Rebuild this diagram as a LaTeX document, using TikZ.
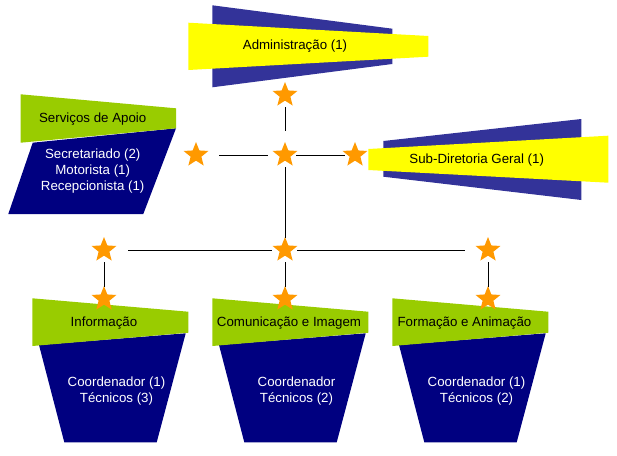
\documentclass[tikz,border=0pt]{standalone}
\usepackage{fontspec}
\setmainfont{Liberation Sans}
\usetikzlibrary{shapes.geometric}

\definecolor{navyblue}{HTML}{000080}
\definecolor{indigoblue}{HTML}{333399}
\definecolor{leafgreen}{HTML}{99CC00}
\definecolor{staryellow}{HTML}{FFFF00}
\definecolor{starorange}{HTML}{FF9900}

\begin{document}
\begin{tikzpicture}[x=1pt,y=-1pt]

\tikzstyle{star_node} = [star, star points=5, star point ratio=2.3, minimum size=26pt, inner sep=0pt, fill=starorange]
\tikzstyle{label_dark} = [font=\fontsize{13.3}{16}\selectfont, text=black, inner sep=0pt]
\tikzstyle{label_light} = [font=\fontsize{13.3}{16}\selectfont, text=white, align=center, inner sep=0pt]
\tikzstyle{link} = [line width=1pt, black, shorten <=12pt, shorten >=12pt]

\useasboundingbox (0,0) rectangle (617,455);

%------------------------------------------------------------
	% Administracao
	\fill[indigoblue] (212.3,5.3) -- (392.3,28.7) -- (392.3,64) -- (212.3,87.3) -- cycle;
	\fill[staryellow] (188.3,22.7) -- (428.3,36) -- (428.3,56.7) -- (188.3,70) -- cycle;
	\node[label_dark] (adm) at (295,46.5) {Administração (1)};

	% Sub-Diretoria
	\fill[indigoblue] (383.3,141) -- (581.3,119) -- (581.3,200) -- (383.3,176.7) -- cycle;
	\fill[staryellow] (368.3,149) -- (608.3,135.7) -- (608.3,182.7) -- (368.3,170) -- cycle;
	\node[label_dark] (sub) at (476.7,160.5) {Sub-Diretoria Geral (1)};

	% Servicos de Apoio
	\fill[navyblue] (32.7,142.7) -- (176,128.3) -- (143.3,214) -- (8.3,214) -- cycle;
	\fill[leafgreen] (20.7,94.3) -- (176,108.3) -- (176,128.3) -- (20.7,142.7) -- cycle;
	\node[label_dark] (apoio) at (92.7,118.8) {Serviços de Apoio};
	\node[label_light] (apoio_txt) at (92.7,171) {Secretariado (2)\\Motorista (1)\\Recepcionista (1)};

%------------------------------------------------------------
	\fill[navyblue] (39,345) -- (185.7,333.3) -- (156.7,442.3) -- (64.3,442.3) -- cycle;
	\fill[leafgreen] (32.3,298.3) -- (188.3,311.7) -- (188.3,332.7) -- (32.3,346) -- cycle;
	\node[label_dark] (info) at (104,322.8) {Informação};
	\node[label_light] (info_txt) at (116.5,391.5) {Coordenador (1)\\Técnicos (3)};

	\fill[navyblue] (219,345) -- (365.7,333.3) -- (336.7,442.3) -- (244.3,442.3) -- cycle;
	\fill[leafgreen] (212.3,298.3) -- (368.3,311.7) -- (368.3,332.7) -- (212.3,346) -- cycle;
	\node[label_dark] (com) at (289,322.8) {Comunicação e Imagem};
	\node[label_light] (com_txt) at (296.5,391.5) {Coordenador\\Técnicos (2)};

	\fill[navyblue] (399,345) -- (545.7,333.3) -- (516.7,442.3) -- (424.3,442.3) -- cycle;
	\fill[leafgreen] (392.3,298.3) -- (548.3,311.7) -- (548.3,332.7) -- (392.3,346) -- cycle;
	\node[label_dark] (form) at (464.5,322.8) {Formação e Animação};
	\node[label_light] (form_txt) at (476.5,391.5) {Coordenador (1)\\Técnicos (2)};

%------------------------------------------------------------
	\node[star_node] (s_adm) at (285,95) {};
	\node[star_node] (s_apoio) at (196,155) {};
	\node[star_node] (s_mid) at (285,155) {};
	\node[star_node] (s_sub) at (355,155) {};

	\node[star_node] (s_left) at (104,250) {};
	\node[star_node] (s_hub) at (285,250) {};
	\node[star_node] (s_right) at (488,250) {};

	\node[star_node] (s_info) at (104,299) {};
	\node[star_node] (s_com) at (285,299) {};
	\node[star_node] (s_form) at (488,299) {};

%------------------------------------------------------------
	\draw[link, shorten >=24pt] (s_adm.center) -- (s_mid.center);
	\draw[link, shorten <=23pt, shorten >=17pt] (s_apoio.center) -- (s_mid.center);
	\draw[link, shorten >=10pt, shorten <=11pt] (s_mid.center) -- (s_sub.center);
	\draw[link] (s_mid.center) -- (s_hub.center);

	\draw[link, shorten <=24pt, shorten >=13pt] (s_left.center) -- (s_hub.center);
	\draw[link, shorten >=23pt] (s_hub.center) -- (s_right.center);

	\draw[link] (s_left.center) -- (s_info.center);
	\draw[link] (s_hub.center) -- (s_com.center);
	\draw[link] (s_right.center) -- (s_form.center);

\end{tikzpicture}
\end{document}
